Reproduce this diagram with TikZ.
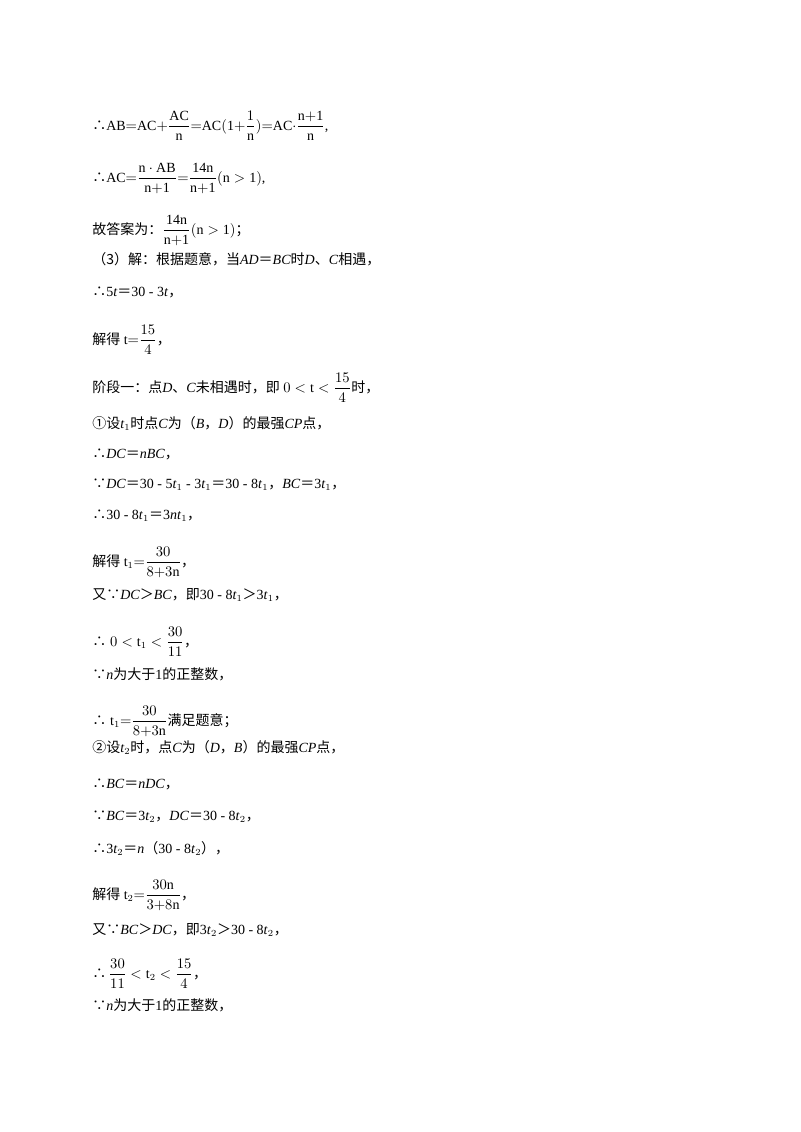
\documentclass[tikz,border=0pt]{standalone}
\usepackage{amsmath,amssymb}
\usepackage{fontspec}
\setmainfont{Liberation Serif}
\newfontfamily\cjk{Noto Sans CJK SC}
\newcommand{\zh}[1]{{\cjk #1}}
\newcommand{\tf}{{\cjk ∴}}
\newcommand{\bc}{{\cjk ∵}}
\newcommand{\EQ}{{\cjk ＝}}
\newcommand{\GT}{{\cjk ＞}}
\newcommand{\CM}{{\cjk ，}}
\begin{document}
\begin{tikzpicture}[x=0.75pt,y=-0.75pt,
  ln/.style={anchor=base west,inner sep=0pt,font=\fontsize{10.5pt}{12pt}\selectfont}]
\useasboundingbox (0,0) rectangle (800,1132);
\fill[white] (0,0) rectangle (800,1132);
\node[ln] (l1) at (92,130) {\tf$\mathrm{AB{=}AC{+}}\dfrac{\mathrm{AC}}{\mathrm{n}}\mathrm{{=}AC(1{+}}\dfrac{1}{\mathrm{n}}\mathrm{){=}AC\cdot}\dfrac{\mathrm{n{+}1}}{\mathrm{n}}$,};
\node[ln] (l2) at (92,182) {\tf$\mathrm{AC{=}}\dfrac{\mathrm{n\cdot AB}}{\mathrm{n{+}1}}{=}\dfrac{\mathrm{14n}}{\mathrm{n{+}1}}\mathrm{(n>1)}$,};
\node[ln] (l3) at (92,234) {\zh{故答案为：}$\dfrac{\mathrm{14n}}{\mathrm{n{+}1}}\mathrm{(n>1)}$\zh{；}};
\node[ln] (l4) at (92,264) {\zh{（3）解：根据题意，当}\textit{AD}\EQ\textit{BC}\zh{时}\textit{D}\zh{、}\textit{C}\zh{相遇，}};
\node[ln] (l5) at (92,296) {\tf5\textit{t}\EQ30 - 3\textit{t}\CM};
\node[ln] (l6) at (92,344) {\zh{解得} $\mathrm{t}{=}\dfrac{15}{4}$\CM};
\node[ln] (l7) at (92,392) {\zh{阶段一：点}\textit{D}\zh{、}\textit{C}\zh{未相遇时，即} $0<\mathrm{t}<\dfrac{15}{4}$\zh{时，}};
\node[ln] (l8) at (92,428) {\zh{①设}\textit{t}$_1$\zh{时点}\textit{C}\zh{为（}\textit{B}\zh{，}\textit{D}\zh{）的最强}\textit{CP}\zh{点，}};
\node[ln] (l9) at (92,458) {\tf\textit{DC}\EQ\textit{nBC}\CM};
\node[ln] (l10) at (92,488) {\bc\textit{DC}\EQ30 - 5\textit{t}$_1$ - 3\textit{t}$_1$\EQ30 - 8\textit{t}$_1$\CM\textit{BC}\EQ3\textit{t}$_1$\CM};
\node[ln] (l11) at (92,519) {\tf30 - 8\textit{t}$_1$\EQ3\textit{nt}$_1$\CM};
\node[ln] (l12) at (92,566) {\zh{解得} $\mathrm{t}_1{=}\dfrac{30}{8{+}3\mathrm{n}}$\CM};
\node[ln] (l13) at (92,599) {\zh{又}\bc\textit{DC}\GT\textit{BC}\zh{，即}30 - 8\textit{t}$_1$\GT3\textit{t}$_1$\CM};
\node[ln] (l14) at (92,646) {\tf\;$0<\mathrm{t}_1<\dfrac{30}{11}$\CM};
\node[ln] (l15) at (92,679) {\bc\textit{n}\zh{为大于}1\zh{的正整数，}};
\node[ln] (l16) at (92,725) {\tf\;$\mathrm{t}_1{=}\dfrac{30}{8{+}3\mathrm{n}}$\zh{满足题意；}};
\node[ln] (l17) at (92,752) {\zh{②设}\textit{t}$_2$\zh{时，点}\textit{C}\zh{为（}\textit{D}\zh{，}\textit{B}\zh{）的最强}\textit{CP}\zh{点，}};
\node[ln] (l18) at (92,788) {\tf\textit{BC}\EQ\textit{nDC}\CM};
\node[ln] (l19) at (92,820) {\bc\textit{BC}\EQ3\textit{t}$_2$\CM\textit{DC}\EQ30 - 8\textit{t}$_2$\CM};
\node[ln] (l20) at (92,853) {\tf3\textit{t}$_2$\EQ\textit{n}\zh{（}30 - 8\textit{t}$_2$\zh{）}\CM};
\node[ln] (l21) at (92,899) {\zh{解得} $\mathrm{t}_2{=}\dfrac{30\mathrm{n}}{3{+}8\mathrm{n}}$\CM};
\node[ln] (l22) at (92,934) {\zh{又}\bc\textit{BC}\GT\textit{DC}\zh{，即}3\textit{t}$_2$\GT30 - 8\textit{t}$_2$\CM};
\node[ln] (l23) at (92,978) {\tf\,$\dfrac{30}{11}<\mathrm{t}_2<\dfrac{15}{4}$\CM};
\node[ln] (l24) at (92,1010) {\bc\textit{n}\zh{为大于}1\zh{的正整数，}};
\end{tikzpicture}
\end{document}
